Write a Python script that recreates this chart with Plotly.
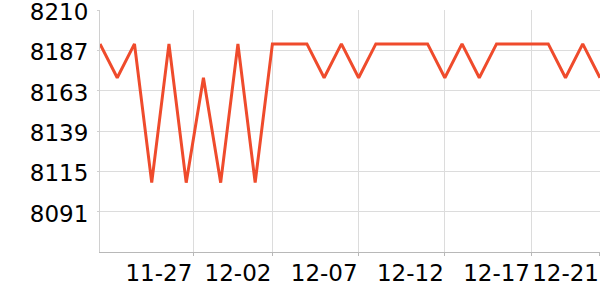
import plotly.graph_objects as go
import pandas as pd

# Data
dates = pd.date_range("2023-11-22", "2023-12-21", freq="D").strftime("%Y-%m-%d").tolist()
values = [8190, 8170, 8190, 8108, 8190, 8108, 8170, 8108, 8190, 8108,
          8190, 8190, 8190, 8170, 8190, 8170, 8190, 8190, 8190, 8190,
          8170, 8190, 8170, 8190, 8190, 8190, 8190, 8170, 8190, 8170]

x_tick_vals = ["2023-11-27 09:50", "2023-12-02", "2023-12-07", "2023-12-12", "2023-12-17", "2023-12-21"]
x_tick_text = ["11-27", "12-02", "12-07", "12-12", "12-17", "12-21"]

y_max = 8210
y_step = 23.83
y_tick_text = ["8210", "8187", "8163", "8139", "8115", "8091"]
y_tick_vals = [y_max - i * y_step for i in range(len(y_tick_text))]
y_min = y_max - 6 * y_step

fig = go.Figure()
fig.add_trace(go.Scatter(
    x=dates, y=values, mode="lines",
    line=dict(color="#ef4b2c", width=3),
    hoverinfo="skip",
))

fig.update_layout(
    width=600, height=300,
    margin=dict(l=100, r=0, t=10, b=48, autoexpand=False),
    paper_bgcolor="white", plot_bgcolor="white",
    showlegend=False,
    font=dict(family="DejaVu Sans", size=23, color="#000000"),
)
fig.update_xaxes(
    type="date",
    range=[dates[0], dates[-1] + " 00:02"],
    tickvals=x_tick_vals, ticktext=x_tick_text,
    ticklabelposition="outside left",
    ticklabeloverflow="allow",
    tickangle=0,
    automargin=False,
    showgrid=True, gridcolor="#dcdcdc", gridwidth=1,
    showline=True, linecolor="#b8b8b8", linewidth=1,
    ticks="outside", ticklen=3, tickcolor="#b8b8b8",
    zeroline=False,
)
fig.update_yaxes(
    range=[y_min, y_max + 0.03],
    tickvals=y_tick_vals, ticktext=y_tick_text,
    ticklabelstandoff=4,
    ticklabelshift=2,
    ticklabeloverflow="allow",
    automargin=False,
    showgrid=True, gridcolor="#dcdcdc", gridwidth=1,
    showline=True, linecolor="#d0d0d0", linewidth=1,
    ticks="outside", ticklen=2, tickcolor="#d0d0d0",
    zeroline=False,
)

fig.write_html("out.html")
